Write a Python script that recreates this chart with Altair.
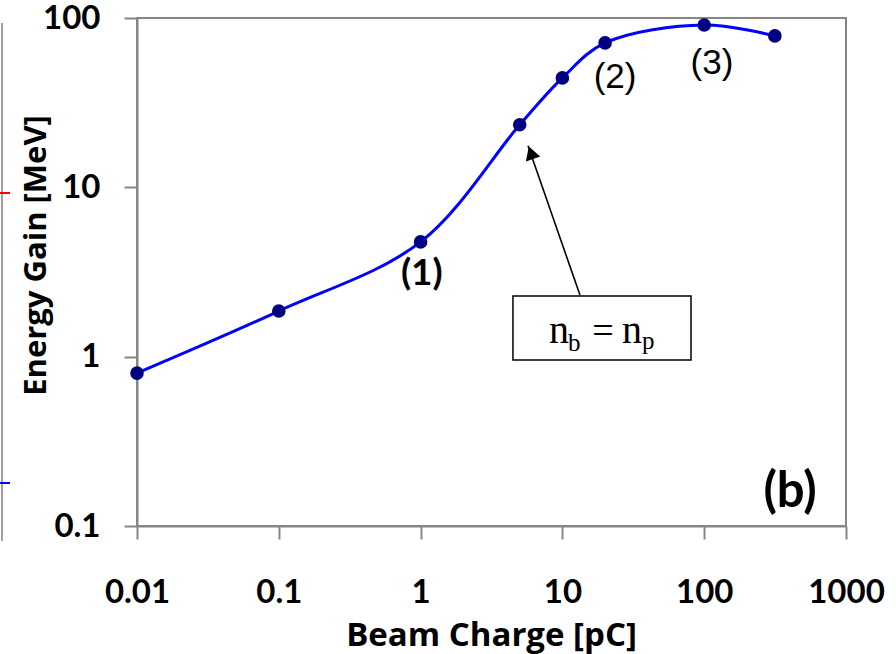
import altair as alt
import pandas as pd

# Energy gain versus beam charge (log-log)
charge_pc = [0.01, 0.1, 1, 5, 10, 20, 100, 315]
gain_mev = [0.8, 1.86, 4.76, 23.4, 44.3, 71.3, 91, 78.4]

x_ticks = [0.01, 0.1, 1, 10, 100, 1000]
y_ticks = [0.1, 1, 10, 100]

# Regime labels placed next to their points
regime_text = ["(1)", "(2)", "(3)"]
regime_x = [1.02, 23.5, 113.5]
regime_y = [3.08, 44.9, 54.3]

# Annotation box and arrow (data coordinates)
box_x = [4.48, 80.7]
box_y = [0.956, 2.28]
box_center = (19.0, 1.477)
arrow_tip = (5.72, 17.6)
arrow_tail = (13.3, 2.31)
arrow_head = (6.0, 16.0)

panel_tag = ("(b)", 403, 0.159)

AXIS_GREY = "#868686"
LINE_BLUE = "#0000FF"
MARKER_NAVY = "#000080"

xs = alt.Scale(type="log", domain=[0.01, 1000])
ys = alt.Scale(type="log", domain=[0.1, 100])

df = pd.DataFrame({"x": charge_pc, "y": gain_mev})

x_axis = alt.Axis(
    values=x_ticks, format="~g", grid=False,
    labelFont="Lato", labelFontWeight="bold", labelFontSize=33, labelColor="black",
    labelPadding=37, labelFlush=False, labelOverlap=False,
    tickSize=13, tickWidth=2, tickColor=AXIS_GREY,
    domainColor=AXIS_GREY, domainWidth=2,
    titleFont="Open Sans", titleFontWeight="bold", titleFontSize=33, titleColor="black",
    titleX=354, titleY=119, titleBaseline="alphabetic", titleAnchor="middle", titleAlign="center",
)
y_axis = alt.Axis(
    values=y_ticks, format="~g", grid=False,
    labelFont="Lato", labelFontWeight="bold", labelFontSize=33, labelColor="black",
    labelPadding=24, labelFlush=False, labelOverlap=False, labelBaseline="middle",
    tickSize=13, tickWidth=2, tickColor=AXIS_GREY,
    domainColor=AXIS_GREY, domainWidth=2,
    titleFont="Open Sans", titleFontWeight="bold", titleFontSize=31, titleColor="black",
    titleX=-92, titleY=237, titleBaseline="alphabetic", titleAngle=270, titleAlign="center",
)

curve = alt.Chart(df).mark_line(
    interpolate="catmull-rom", color=LINE_BLUE, strokeWidth=3
).encode(
    x=alt.X("x:Q", scale=xs, axis=x_axis, title="Beam Charge [pC]"),
    y=alt.Y("y:Q", scale=ys, axis=y_axis, title="Energy Gain [MeV]"),
)

points = alt.Chart(df).mark_point(
    filled=True, color=MARKER_NAVY, size=185, opacity=1, shape="circle"
).encode(
    x=alt.X("x:Q", scale=xs),
    y=alt.Y("y:Q", scale=ys),
)

lab_df = pd.DataFrame({"t": regime_text, "x": regime_x, "y": regime_y})
lab_bold = alt.Chart(lab_df.iloc[:1]).mark_text(
    font="Lato", fontWeight="bold", fontSize=37, color="black", baseline="middle"
).encode(x=alt.X("x:Q", scale=xs), y=alt.Y("y:Q", scale=ys), text="t:N")
lab_norm = alt.Chart(lab_df.iloc[1:]).mark_text(
    font="Liberation Sans", fontSize=35, color="black", baseline="middle"
).encode(x=alt.X("x:Q", scale=xs), y=alt.Y("y:Q", scale=ys), text="t:N")

arrow_df = pd.DataFrame({"x": [arrow_tip[0]], "y": [arrow_tip[1]],
                         "x2": [arrow_tail[0]], "y2": [arrow_tail[1]]})
arrow = alt.Chart(arrow_df).mark_rule(color="black", strokeWidth=1.6).encode(
    x=alt.X("x:Q", scale=xs), y=alt.Y("y:Q", scale=ys), x2="x2:Q", y2="y2:Q"
)
head = alt.Chart(pd.DataFrame({"x": [arrow_head[0]], "y": [arrow_head[1]]})).mark_point(
    shape="triangle-up", filled=True, color="black", size=230, angle=341, opacity=1
).encode(x=alt.X("x:Q", scale=xs), y=alt.Y("y:Q", scale=ys))

box = alt.Chart(pd.DataFrame({"x": [box_x[0]], "x2": [box_x[1]],
                              "y": [box_y[0]], "y2": [box_y[1]]})).mark_rect(
    fill="white", stroke="black", strokeWidth=1.5
).encode(x=alt.X("x:Q", scale=xs), y=alt.Y("y:Q", scale=ys), x2="x2:Q", y2="y2:Q")

center_df = pd.DataFrame({"x": [box_center[0]], "y": [box_center[1]]})


def eq_piece(txt, dx, dy, size, align="left"):
    return alt.Chart(center_df).mark_text(
        text=txt, font="Liberation Serif", fontSize=size, color="black",
        align=align, baseline="alphabetic", dx=dx, dy=dy
    ).encode(x=alt.X("x:Q", scale=xs), y=alt.Y("y:Q", scale=ys))


equation = (
    eq_piece("n", -53, 15, 40)
    + eq_piece("b", -34, 23, 25)
    + eq_piece("=", 1, 15, 38, align="center")
    + eq_piece("n", 20, 15, 40)
    + eq_piece("p", 40, 21, 25)
)

tag = alt.Chart(pd.DataFrame({"t": [panel_tag[0]], "x": [panel_tag[1]], "y": [panel_tag[2]]})).mark_text(
    font="Lato", fontWeight="bold", fontSize=49, color="black", baseline="middle"
).encode(x=alt.X("x:Q", scale=xs), y=alt.Y("y:Q", scale=ys), text="t:N")

# Edge of the neighbouring panel on the left
one = alt.Data(values=[{"k": 1}])
edge = alt.Chart(one).mark_rule(color="#808080", strokeWidth=1.5).encode(
    x=alt.value(-135), y=alt.value(5), y2=alt.value(523))
red_tick = alt.Chart(one).mark_rule(color="#FF0000", strokeWidth=2).encode(
    x=alt.value(-137), x2=alt.value(-127), y=alt.value(175))
blue_tick = alt.Chart(one).mark_rule(color="#0000FF", strokeWidth=2).encode(
    x=alt.value(-137), x2=alt.value(-127), y=alt.value(465))

chart = alt.layer(
    curve, points, arrow, head, box, equation, lab_bold, lab_norm, tag,
    edge, red_tick, blue_tick
).properties(
    width=709, height=508,
    autosize=alt.AutoSizeParams(type="none"),
    padding={"left": 137, "top": 18, "right": 50, "bottom": 128},
    background="white",
).configure_view(stroke=AXIS_GREY, strokeWidth=2)

chart.save("out.html", embed_options={"renderer": "svg", "actions": False})
